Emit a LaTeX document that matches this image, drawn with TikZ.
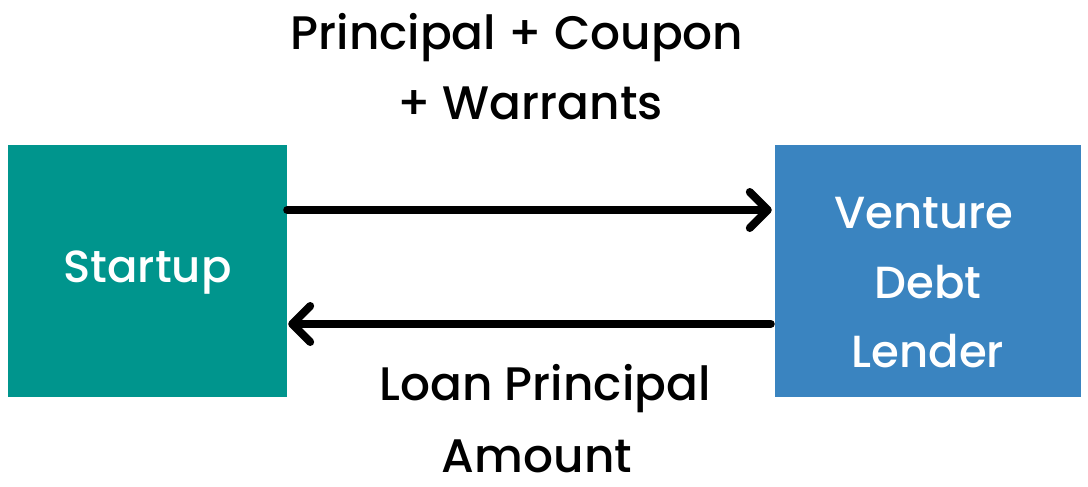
\documentclass[tikz,border=0pt]{standalone}
\usepackage{fontspec}
\setmainfont{Poppins}[UprightFont=* Medium]
\usetikzlibrary{arrows.meta}
\definecolor{teal1}{RGB}{0,149,141}
\definecolor{blue1}{RGB}{58,132,192}
\tikzset{
  box/.style={draw=none, minimum width=#1, minimum height=252pt, inner sep=0pt},
  lbl/.style={inner sep=0pt, anchor=base, font=\fontsize{47}{70}\selectfont},
  inlbl/.style={inner sep=0pt, anchor=base, text=white, font=\fontsize{45}{70}\selectfont},
  flow/.style={line width=8pt, line cap=round, -{Straight Barb[length=18pt, width=36pt, line width=8pt, line cap=round, line join=round]}}
}
\begin{document}
\begin{tikzpicture}[x=1pt, y=-1pt]
\useasboundingbox (0,0) rectangle (1088,487);
\node[box=279pt, fill=teal1] (s) at (147.5,271) {};
\node[box=306pt, fill=blue1] (l) at (928,271) {};
\node[inlbl] (st) at (147.5,282) {Startup};
\node[inlbl] (v1) at (924,228) {Venture};
\node[inlbl] (v2) at (928,298) {Debt};
\node[inlbl] (v3) at (928,367) {Lender};
\node[lbl] (t1) at (517,50) {Principal + Coupon};
\node[lbl] (t2) at (530,120) {+ Warrants};
\node[lbl] (b1) at (545,400) {Loan Principal};
\node[lbl] (b2) at (537,472) {Amount};
\draw[flow] ([yshift=61pt]s.east) -- ([xshift=-3pt,yshift=61pt]l.west);
\draw[flow] ([xshift=-4pt,yshift=-53pt]l.west) -- ([xshift=1pt,yshift=-53pt]s.east);
\end{tikzpicture}
\end{document}
